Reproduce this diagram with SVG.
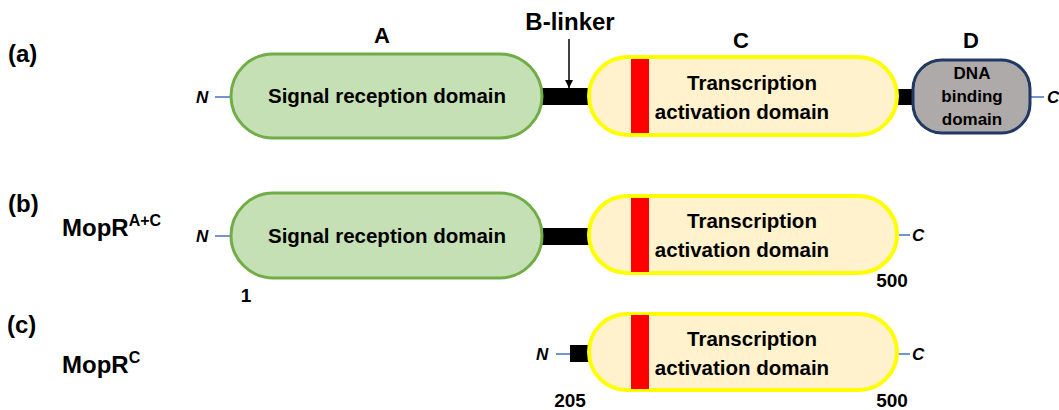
<svg xmlns="http://www.w3.org/2000/svg" width="1059" height="410" viewBox="0 0 1059 410">
<defs>
<style>
text{font-family:"Liberation Sans",Arial,sans-serif;font-weight:bold;fill:#000}
.lbl{font-size:24px}
.hd{font-size:22px;text-anchor:middle}
.dt{font-size:20.5px;text-anchor:middle}
.dn{font-size:17px;text-anchor:middle}
.term{font-size:17px;font-style:italic}
.num{font-size:19px;text-anchor:middle}
.green{fill:#c5e0b4;stroke:#70ad47;stroke-width:3}
.yellow{fill:#fff2cc;stroke:#ffff00;stroke-width:4}
.gray{fill:#aeaaaa;stroke:#1f3864;stroke-width:3}
.red{fill:#ff0000}
.blk{fill:#000}
.tail{stroke:#4472c4;stroke-width:1.5}
</style>
<marker id="ah" viewBox="0 0 10 10" refX="10" refY="5" markerWidth="8" markerHeight="8" markerUnits="userSpaceOnUse" orient="auto">
<path d="M0,0 L10,5 L0,10 z" fill="#000"/>
</marker>
</defs>
<rect width="1059" height="410" fill="#fff"/>

<!-- Panel labels -->
<text class="lbl" x="8" y="62">(a)</text>
<text class="lbl" x="8" y="212">(b)</text>
<text class="lbl" x="7" y="333">(c)</text>
<text class="lbl" x="62" y="236">MopR<tspan font-size="16px" dy="-10">A+C</tspan></text>
<text class="lbl" x="62" y="373">MopR<tspan font-size="16px" dy="-10">C</tspan></text>

<!-- Headings -->
<text class="hd" x="382" y="43">A</text>
<text class="hd" x="570" y="30" style="font-size:24px">B-linker</text>
<text class="hd" x="741" y="48">C</text>
<text class="hd" x="971" y="48">D</text>

<!-- Connectors: linkers, tails, arrow -->
<g id="connectors">
<line class="tail" x1="215" y1="97" x2="231" y2="97"/>
<rect class="blk" x="542" y="88" width="47" height="17"/>
<rect class="blk" x="897" y="89" width="16" height="16"/>
<line class="tail" x1="1030" y1="97" x2="1044" y2="97"/>
<line x1="569" y1="39" x2="569" y2="88" stroke="#000" stroke-width="1.5" marker-end="url(#ah)"/>

<line class="tail" x1="215" y1="236" x2="231" y2="236"/>
<rect class="blk" x="542" y="228" width="47" height="17"/>
<line class="tail" x1="896" y1="235" x2="910" y2="235"/>

<line class="tail" x1="556" y1="354" x2="570" y2="354"/>
<rect class="blk" x="570" y="345" width="19" height="17"/>
<line class="tail" x1="896" y1="354" x2="910" y2="354"/>
</g>

<!-- Row (a) -->
<g id="a-N"><text class="term" x="196" y="103">N</text></g>
<g id="a-signal">
<rect class="green" x="231" y="54" width="311" height="84" rx="42"/>
<text class="dt" x="387" y="103">Signal reception domain</text>
</g>
<g id="a-transcription">
<rect class="yellow" x="589" y="57" width="308" height="78" rx="39"/>
<rect class="red" x="631" y="59" width="18" height="74"/>
<text class="dt" x="752" y="90">Transcription</text>
<text class="dt" x="742" y="119">activation domain</text>
</g>
<g id="a-dna">
<rect class="gray" x="913" y="60" width="117" height="73" rx="29"/>
<text class="dn" x="972" y="79">DNA</text>
<text class="dn" x="972" y="102">binding</text>
<text class="dn" x="972" y="125">domain</text>
</g>
<g id="a-C"><text class="term" x="1047" y="103">C</text></g>

<!-- Row (b) -->
<g id="b-N"><text class="term" x="196" y="242">N</text></g>
<g id="b-signal">
<rect class="green" x="231" y="193" width="311" height="85" rx="42.5"/>
<text class="dt" x="387" y="243">Signal reception domain</text>
</g>
<g id="b-transcription">
<rect class="yellow" x="589" y="196" width="308" height="77" rx="38.5"/>
<rect class="red" x="631" y="198" width="18" height="74"/>
<text class="dt" x="752" y="228">Transcription</text>
<text class="dt" x="742" y="257">activation domain</text>
</g>
<g id="b-C"><text class="term" x="912" y="241">C</text></g>
<text class="num" x="246" y="302">1</text>
<text class="num" x="892" y="287">500</text>

<!-- Row (c) -->
<g id="c-N"><text class="term" x="536" y="360">N</text></g>
<g id="c-transcription">
<rect class="yellow" x="589" y="314" width="308" height="76" rx="38"/>
<rect class="red" x="631" y="315" width="18" height="74"/>
<text class="dt" x="752" y="346">Transcription</text>
<text class="dt" x="742" y="375">activation domain</text>
</g>
<g id="c-C"><text class="term" x="912" y="360">C</text></g>
<text class="num" x="570" y="407">205</text>
<text class="num" x="892" y="407">500</text>
</svg>
